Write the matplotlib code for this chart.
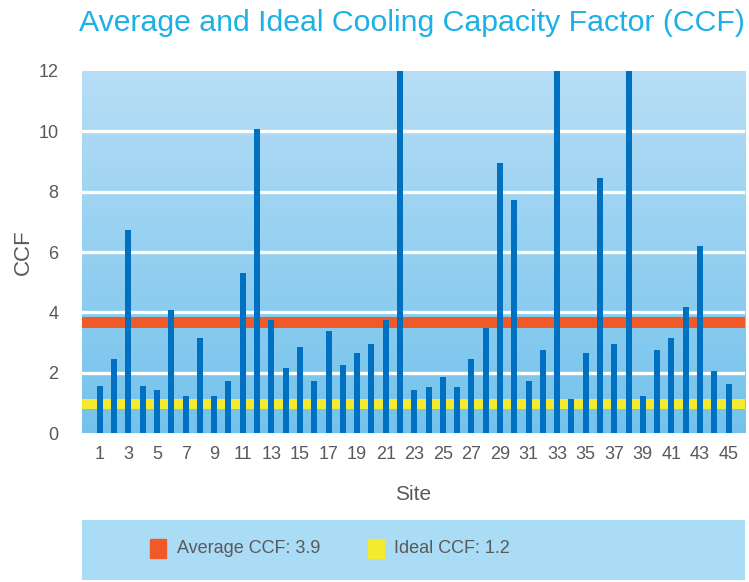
import matplotlib
matplotlib.use('Agg')
import matplotlib.pyplot as plt
import numpy as np
from matplotlib.patches import Rectangle

# -- Data ---------------------------------------------------------------------
sites = list(range(1, 46))
ccf = [1.55, 2.46, 6.72, 1.55, 1.43, 4.09, 1.24, 3.17, 1.24, 1.73,
       5.30, 10.07, 3.75, 2.16, 2.87, 1.73, 3.37, 2.26, 2.66, 2.96,
       3.75, 14.0, 1.43, 1.53, 1.87, 1.53, 2.46, 3.47, 8.94, 7.72,
       1.73, 2.76, 14.0, 1.14, 2.66, 8.44, 2.96, 14.0, 1.24, 2.76,
       3.17, 4.18, 6.21, 2.06, 1.64]
xtick_labels = [str(s) for s in sites[::2]]

avg_ccf, ideal_ccf = 3.9, 1.2
avg_band = (3.5, 3.85)      # band as drawn in the source chart
ideal_band = (0.8, 1.15)

# -- Style --------------------------------------------------------------------
BAR    = '#0070c0'
RED    = '#f05a28'
YELLOW = '#f5eb2e'
TITLE  = '#1cb1e6'
GREY   = '#595959'
LEGBG  = '#aadcf6'

plt.rcParams['font.family'] = ['Liberation Sans', 'DejaVu Sans']

fig = plt.figure(figsize=(7.49, 5.82), dpi=100)
ax = fig.add_axes([0.1095, 0.2555, 0.8852, 0.623])

# gradient background
grad = np.linspace(0, 1, 256).reshape(-1, 1)
top = np.array([183, 222, 246]) / 255
bot = np.array([116, 194, 236]) / 255
img = top + (bot - top) * grad[:, :, None]
ax.imshow(img, extent=(-0.25, 46.15, 0, 12), aspect='auto', zorder=0)

for y in range(2, 12, 2):
    ax.axhline(y, color='white', linewidth=2.4, zorder=1)

ax.axhspan(*avg_band, color=RED, zorder=2, linewidth=0)
ax.axhspan(*ideal_band, color=YELLOW, zorder=2, linewidth=0)

ax.bar(sites, ccf, width=0.42, color=BAR, zorder=3)

ax.set_xlim(-0.25, 46.15)
ax.set_ylim(0, 12)
ax.set_xticks(sites[::2])
ax.set_xticklabels(xtick_labels)
ax.set_yticks(range(0, 13, 2))
for s in ax.spines.values():
    s.set_visible(False)
ax.tick_params(length=0, labelsize=13, colors=GREY)
ax.tick_params(axis='x', pad=9)
ax.tick_params(axis='y', pad=17)
ax.set_xlabel('Site', fontsize=15, color=GREY, labelpad=16)
ax.set_ylabel('CCF', fontsize=16, color=GREY, labelpad=3)

fig.text(0.5494, 0.960, 'Average and Ideal Cooling Capacity Factor (CCF)',
         ha='center', va='center', fontsize=21.8, color=TITLE)

# legend panel
lax = fig.add_axes([0.1095, 0.003, 0.8852, 0.104])
lax.set_xlim(0, 1)
lax.set_ylim(0, 1)
lax.set_facecolor(LEGBG)
for s in lax.spines.values():
    s.set_visible(False)
lax.set_xticks([])
lax.set_yticks([])
lax.add_patch(Rectangle((0.103, 0.36), 0.024, 0.32, color=RED))
lax.text(0.143, 0.52, f'Average CCF: {avg_ccf}', va='center', fontsize=13, color=GREY)
lax.add_patch(Rectangle((0.431, 0.36), 0.024, 0.32, color=YELLOW))
lax.text(0.470, 0.52, f'Ideal CCF: {ideal_ccf}', va='center', fontsize=13, color=GREY)

fig.savefig('out.png', dpi=100)
